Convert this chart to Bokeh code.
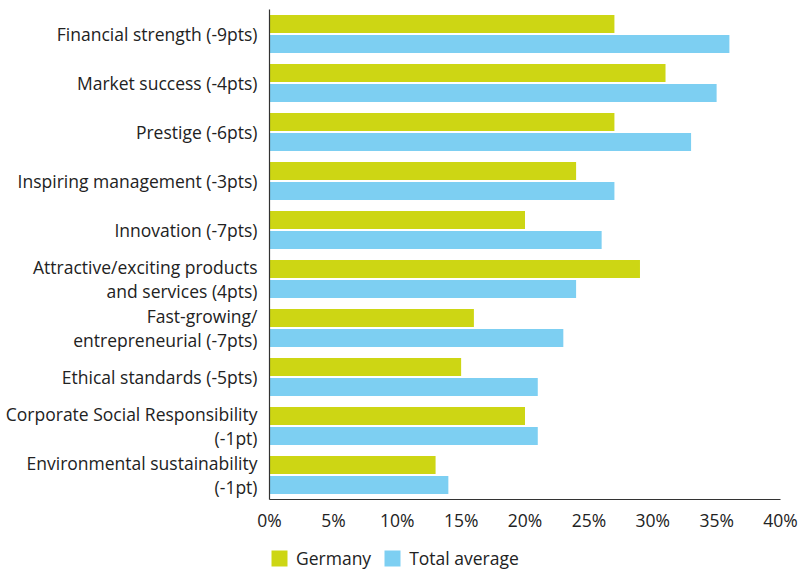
from bokeh.plotting import figure
from bokeh.layouts import column
from bokeh.models import FactorRange, Legend, LegendItem, NumeralTickFormatter, FixedTicker, ColumnDataSource
from bokeh.transform import dodge
from bokeh.embed import file_html
from bokeh.resources import INLINE

categories = [
    "Financial strength (-9pts)",
    "Market success (-4pts)",
    "Prestige (-6pts)",
    "Inspiring management (-3pts)",
    "Innovation (-7pts)",
    "Attractive/exciting products\nand services (4pts)",
    "Fast-growing/\nentrepreneurial (-7pts)",
    "Ethical standards (-5pts)",
    "Corporate Social Responsibility\n(-1pt)",
    "Environmental sustainability\n(-1pt)",
]
germany = [27, 31, 27, 24, 20, 29, 16, 15, 20, 13]
total_average = [36, 35, 33, 27, 26, 24, 23, 21, 21, 14]
x_ticks = [0, 5, 10, 15, 20, 25, 30, 35, 40]
series_names = ["Germany", "Total average"]
series_colors = ["#CDD614", "#7DCFF2"]

FONT = "Open Sans"
TEXT = "#222222"

source = ColumnDataSource(dict(cat=categories, germany=[g / 100 for g in germany],
                               total=[t / 100 for t in total_average]))

# ---- main chart ----
p = figure(width=800, height=535, output_backend="svg", toolbar_location=None,
           y_range=FactorRange(*reversed(categories)), x_range=(0, 0.40))
p.min_border_left = 269
p.min_border_right = 20
p.min_border_top = 9
p.min_border_bottom = 36
p.outline_line_color = None
p.grid.grid_line_color = None
p.background_fill_color = "white"

p.hbar(y=dodge("cat", 0.203, range=p.y_range), right="germany", left=0, height=0.365,
       source=source, color=series_colors[0], line_color=None)
p.hbar(y=dodge("cat", -0.203, range=p.y_range), right="total", left=0, height=0.365,
       source=source, color=series_colors[1], line_color=None)

p.xaxis.ticker = FixedTicker(ticks=[v / 100 for v in x_ticks])
p.xaxis.formatter = NumeralTickFormatter(format="0%")
for ax in (p.xaxis[0], p.yaxis[0]):
    ax.major_tick_line_color = None
    ax.minor_tick_line_color = None
    ax.axis_line_color = "#333333"
    ax.axis_line_width = 1.2
    ax.major_label_text_font = FONT
    ax.major_label_text_font_size = "17.5px"
    ax.major_label_text_color = TEXT
p.yaxis.major_label_text_line_height = 1.0
p.xaxis.major_label_standoff = 2
p.yaxis.major_label_standoff = 6

# ---- legend strip below the chart (frame aligned with the chart's frame) ----
lg = figure(width=800, height=37, output_backend="svg", toolbar_location=None,
            x_axis_type=None, y_axis_type=None, x_range=(0, 1), y_range=(0, 1))
lg.min_border_left = 0
lg.min_border_right = 0
lg.min_border_top = 0
lg.min_border_bottom = 0
lg.outline_line_color = None
lg.grid.grid_line_color = None

items = []
for name, col in zip(series_names, series_colors):
    # placeholder renderer outside the visible range, used only for its legend swatch
    r = lg.hbar(y=[-5], right=[0], left=0, height=0.5, color=col, line_color=None)
    items.append(LegendItem(label=name, renderers=[r]))

legend = Legend(items=items, orientation="horizontal", location=(0, 2),
                label_text_font=FONT, label_text_font_size="17.5px", label_text_color=TEXT,
                glyph_width=20, glyph_height=20, label_height=20, spacing=11, label_standoff=7,
                border_line_color=None, background_fill_alpha=0, padding=0, margin=0)
lg.add_layout(legend, "center")

layout = column(p, lg, spacing=0)
open("out.html", "w").write(file_html(layout, INLINE))
